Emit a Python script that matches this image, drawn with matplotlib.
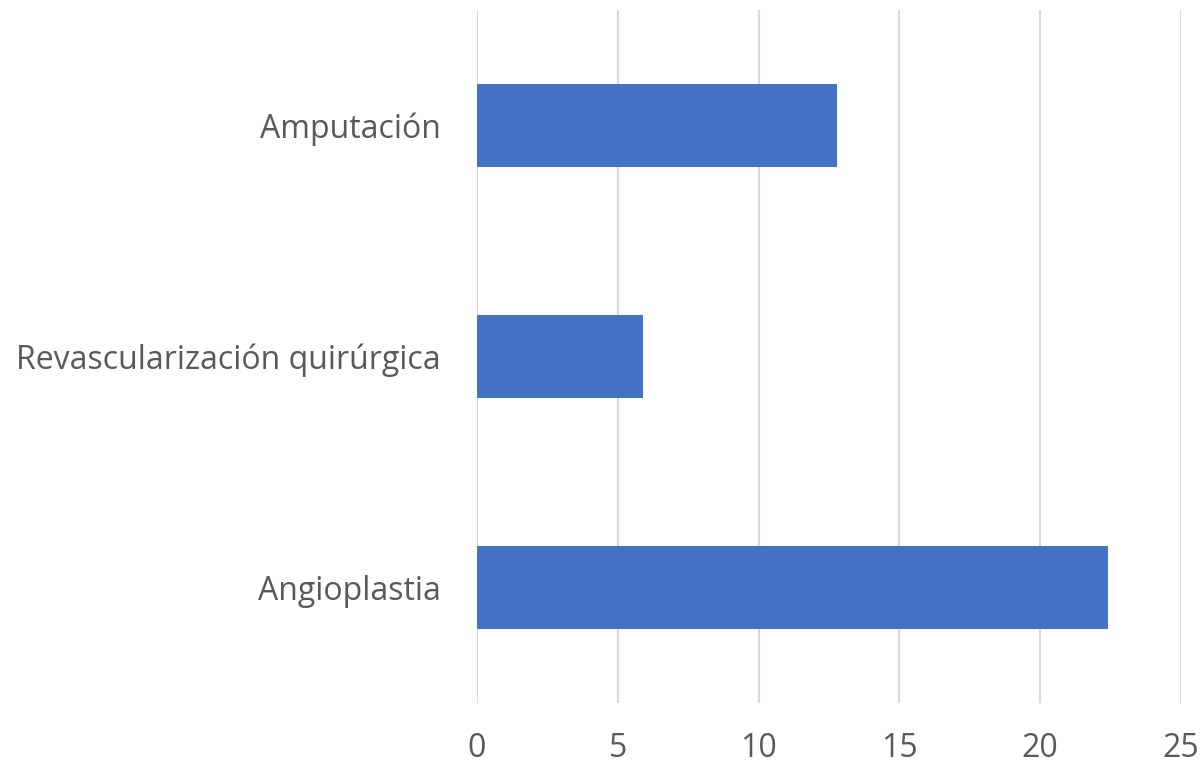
import matplotlib
matplotlib.use("Agg")
import matplotlib.pyplot as plt

categories = ["Angioplastia", "Revascularización quirúrgica", "Amputación"]
values = [22.4, 5.9, 12.8]
xticks = [0, 5, 10, 15, 20, 25]

plt.rcParams['font.family'] = ['Open Sans', 'DejaVu Sans']

fig = plt.figure(figsize=(12.04, 7.66), dpi=100)
ax = fig.add_axes([477/1204, 1-703/766, (1181-477)/1204, (703-10)/766])

ax.barh(range(len(categories)), values, height=0.355, color="#4472C4", zorder=3)
ax.set_xlim(0, 25)
ax.set_ylim(-0.5, len(categories)-0.5)
ax.set_xticks(xticks)
ax.set_yticks(range(len(categories)))
ax.set_yticklabels(categories)
ax.xaxis.grid(True, color="#D9D9D9", linewidth=1.5, zorder=0)
ax.set_axisbelow(True)
for s in ax.spines.values():
    s.set_visible(False)
ax.tick_params(axis='both', length=0, labelsize=23, colors="#595959")
ax.tick_params(axis='y', pad=26)
ax.tick_params(axis='x', pad=21)

fig.savefig("out.png", dpi=100)
